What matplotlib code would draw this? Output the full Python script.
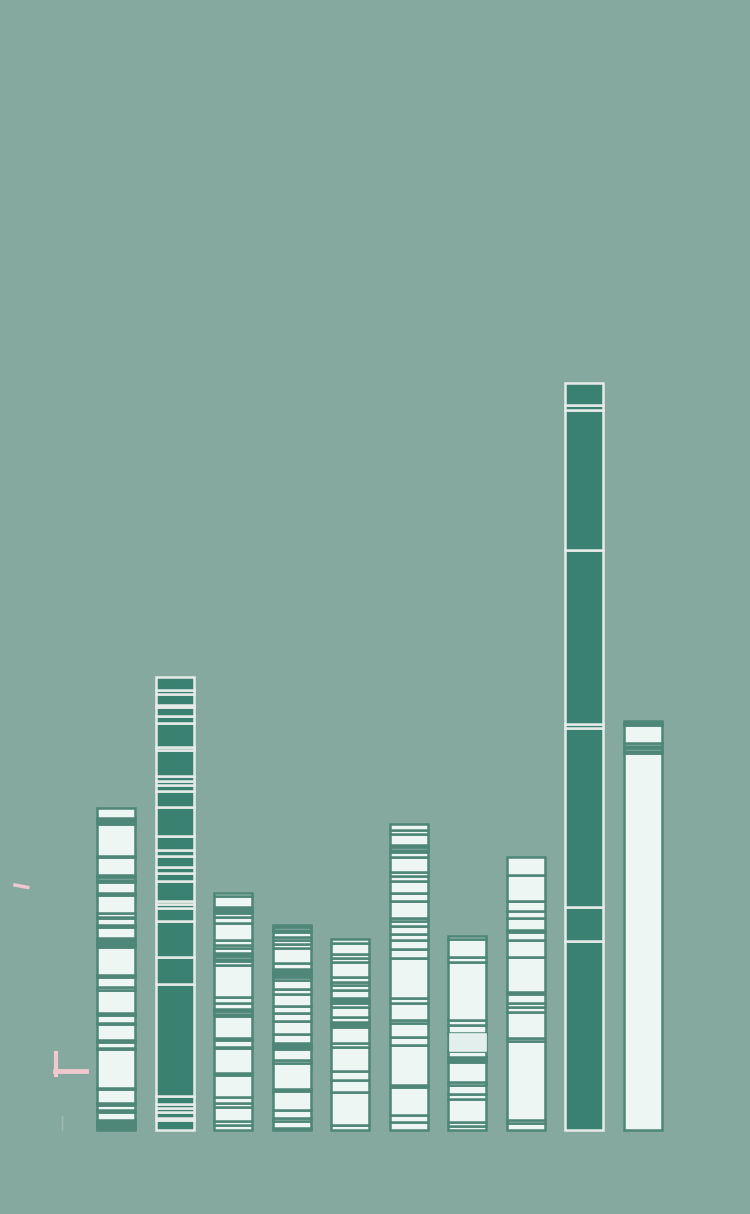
import numpy as np
import matplotlib.pyplot as plt
from matplotlib.lines import Line2D

# segment sizes of each stacked column, bottom to top
seg_1 = [2, 2, 2, 2, 2, 8, 2, 5, 2, 14, 1, 39, 1, 6, 2, 16, 1, 8, 2, 23, 3, 10, 2, 28,
         1, 2, 2, 2, 2, 11, 2, 7, 1, 4, 18, 2, 11, 2, 3, 2, 18, 1, 32, 2, 2, 2, 10]
seg_2 = [10, 2, 6, 4, 4, 8, 112, 27, 36, 13, 4, 3, 20, 8, 6, 11, 6, 14, 29, 16, 6, 4,
         5, 26, 3, 24, 7, 9, 2, 11, 4, 13]
seg_3 = [5, 4, 14, 4, 6, 22, 2, 25, 1, 7, 2, 22, 2, 3, 2, 6, 6, 32, 4, 2, 3, 2, 1, 5,
         3, 5, 17, 6, 4, 2, 2, 2, 11, 3]
seg_4 = [2, 7, 3, 8, 19, 2, 26, 3, 11, 2, 2, 2, 9, 13, 8, 7, 12, 5, 9, 3, 2, 2, 2, 2,
         6, 15, 4, 4, 3, 5, 2, 3, 2]
seg_5 = [5, 33, 12, 9, 24, 4, 16, 2, 1, 2, 5, 10, 4, 2, 1, 2, 8, 5, 3, 5, 15, 4, 4, 11, 4]
seg_6 = [8, 7, 28, 2, 40, 8, 14, 3, 17, 5, 40, 9, 9, 6, 8, 5, 3, 17, 8, 12, 5, 4, 15,
         5, 2, 3, 2, 11, 4, 6]
seg_7 = [4, 4, 23, 5, 9, 3, 20, 2, 1, 2, 6, 18, 8, 5, 58, 5, 18, 3]
seg_8 = [7, 3, 79, 3, 26, 5, 4, 9, 2, 35, 17, 8, 2, 12, 7, 10, 26, 18]
seg_9 = [189, 34, 179, 4, 174, 140, 5, 22]
seg_10 = [377, 2, 3, 2, 3, 18, 2, 2]

columns = [seg_1, seg_2, seg_3, seg_4, seg_5, seg_6, seg_7, seg_8, seg_9, seg_10]
dark_cols = [1, 8]  # columns drawn with dark fill

bg = '#85a99e'
light = '#eef6f3'
dark = '#3b8172'
edge_dark = '#4e8677'
edge_light = '#e6ebe8'

fig = plt.figure(figsize=(7.5, 12.14), dpi=100, facecolor=bg)
ax = fig.add_axes([0, 0, 1, 1])
ax.set_facecolor(bg)

for i, segs in enumerate(columns):
    segs = np.array(segs)
    bottoms = np.concatenate([[0], np.cumsum(segs)[:-1]])
    if i in dark_cols:
        fc, ec = dark, edge_light
    else:
        fc, ec = light, edge_dark
    ax.bar([i] * len(segs), segs, bottom=bottoms, width=0.65,
           color=fc, edgecolor=ec, linewidth=1.8)

# a paler piece in column 7
ax.bar(6, 18, bottom=79, width=0.63, color='#e3efed', edgecolor='#e3efed', linewidth=0.5)

ax.set_xlim(-1.981, 10.827)
ax.set_ylim(-84, 1130)
ax.axis('off')

# small pink strokes at the left
pink = '#efc9cf'
fig.add_artist(Line2D([0.02, 0.037], [0.271, 0.269], color=pink, lw=2.5))
fig.add_artist(Line2D([0.0747, 0.0747], [0.1145, 0.133], color=pink, lw=3))
fig.add_artist(Line2D([0.073, 0.115], [0.1175, 0.1175], color=pink, lw=3.5))
fig.add_artist(Line2D([0.082, 0.082], [0.069, 0.081], color='#9fbab2', lw=1))

fig.savefig('out.png', dpi=100, facecolor=bg)
